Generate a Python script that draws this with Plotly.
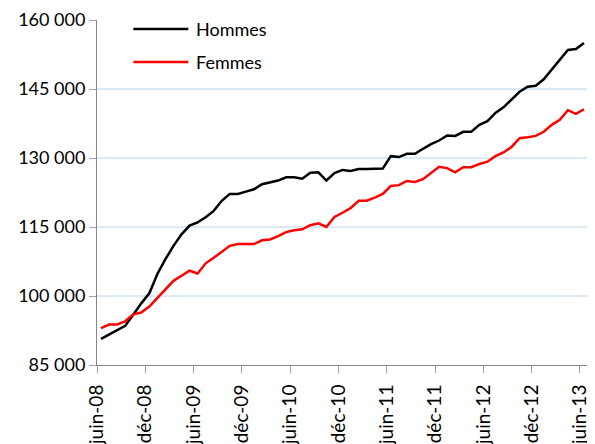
import plotly.graph_objects as go

# Monthly series, juin-08 (index 0) to juin-13 (index 60)
hommes = [90700, 91600, 92500, 93500, 95900, 98400, 100600, 104800, 108000, 110900,
          113400, 115300, 116000, 117100, 118500, 120700, 122200, 122200, 122700, 123200,
          124300, 124700, 125100, 125800, 125800, 125500, 126800, 126900, 125100, 126700,
          127400, 127200, 127600, 127600, 127600, 127700, 130400, 130200, 130900, 130900,
          132000, 133000, 133800, 134900, 134800, 135700, 135700, 137200, 138000, 139800,
          141000, 142700, 144400, 145500, 145700, 147100, 149300, 151300, 153500, 153700,
          155000]
femmes = [93000, 93800, 93800, 94500, 96000, 96400, 97700, 99500, 101300, 103300,
          104400, 105500, 104900, 107100, 108300, 109600, 110900, 111300, 111300, 111300,
          112100, 112300, 113000, 113900, 114300, 114500, 115400, 115800, 115000, 117200,
          118100, 119100, 120700, 120700, 121400, 122200, 123900, 124100, 125000, 124800,
          125400, 126800, 128100, 127800, 126900, 128000, 128000, 128700, 129200, 130400,
          131200, 132400, 134300, 134500, 134800, 135700, 137200, 138300, 140400, 139600,
          140600]
series_names = ["Hommes", "Femmes"]
series_colors = ["#000000", "#ff0000"]
x_labels = ["juin-08", "déc-08", "juin-09", "déc-09", "juin-10", "déc-10",
            "juin-11", "déc-11", "juin-12", "déc-12", "juin-13"]
label_months = [0, 6, 12, 18, 24, 30, 36, 42, 48, 54, 60]
y_ticks = [85000, 100000, 115000, 130000, 145000, 160000]
y_tick_labels = ["85 000", "100 000", "115 000", "130 000", "145 000", "160 000"]

months = list(range(len(hommes)))

fig = go.Figure()
for name, vals, col in zip(series_names, [hommes, femmes], series_colors):
    fig.add_trace(go.Scatter(x=months, y=vals, mode="lines", name=name,
                             line=dict(color=col, width=2.5)))

grid_color = "#b8d4ee"
for v in y_ticks[1:-1]:
    fig.add_shape(type="line", xref="paper", x0=0, x1=1, yref="y", y0=v, y1=v,
                  line=dict(color=grid_color, width=1), layer="below")

# Manual legend (Excel-style long line samples)
legend_y = [0.974, 0.878]
for name, col, ly in zip(series_names, series_colors, legend_y):
    fig.add_shape(type="line", xref="paper", yref="paper", x0=0.074, x1=0.186,
                  y0=ly, y1=ly, line=dict(color=col, width=2.5))
    fig.add_annotation(xref="paper", yref="paper", x=0.1976, y=ly, text=name,
                       showarrow=False, xanchor="left", yanchor="middle",
                       font=dict(size=18, color="#000000"))

font_family = "Lato, 'Open Sans', sans-serif"
fig.update_layout(
    width=587, height=436,
    margin=dict(l=89, r=7, t=12, b=79),
    paper_bgcolor="white", plot_bgcolor="white",
    font=dict(family=font_family, size=18, color="#000000"),
    showlegend=False,
    xaxis=dict(range=[-0.5, 60.5], tickmode="array",
               tickvals=[m - 0.5 for m in label_months], ticktext=x_labels,
               tickangle=-90, showgrid=False, zeroline=False, automargin=False,
               showline=True, linecolor="#868686", linewidth=1,
               ticks="outside", ticklen=7, tickcolor="#a0a0a0",
               ticklabelstandoff=4, tickfont=dict(size=19)),
    yaxis=dict(range=[85000, 160000], tickmode="array",
               tickvals=y_ticks, ticktext=y_tick_labels,
               showgrid=False, zeroline=False, automargin=False,
               showline=True, linecolor="#868686", linewidth=1,
               ticks="outside", ticklen=7, tickcolor="#a0a0a0",
               tickfont=dict(size=18)),
)

fig.write_html("out.html")
